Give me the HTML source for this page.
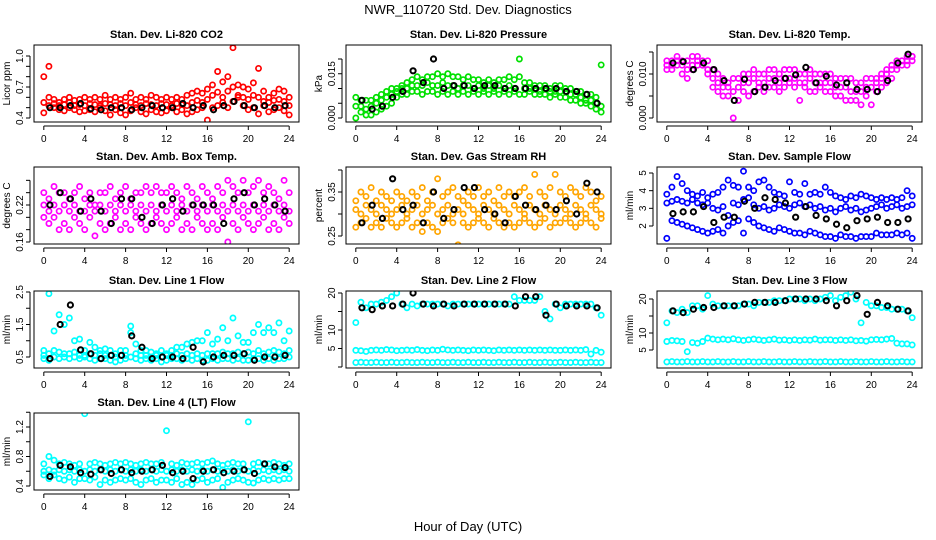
<!DOCTYPE html>
<html><head><meta charset="utf-8"><style>
html,body{margin:0;padding:0;background:#fff;}
svg{display:block;font-family:"Liberation Sans",Arial,sans-serif;}
</style></head><body>
<svg id="chart" width="936" height="540" viewBox="0 0 936 540">
<text x="468" y="14" text-anchor="middle" font-size="13">NWR_110720  Std. Dev. Diagnostics</text>
<text x="468" y="531" text-anchor="middle" font-size="13">Hour of Day (UTC)</text>
</svg>
<script>
const xTicks = [0,4,8,12,16,20,24];

const co2A = [0.80,0.60,0.58,0.55,0.58,0.60,0.57,0.58, 0.60,0.58,0.60,0.58,0.62,0.58,0.60,0.58, 0.60,0.64,0.58,0.60,0.58,0.62,0.60,0.58, 0.60,0.58,0.60,0.58,0.62,0.64,0.66,0.64, 0.68,0.72,0.85,0.75,0.80,1.08,0.72,0.70, 0.68,0.74,0.88,0.66,0.60,0.64,0.68,0.66, 0.60];
const co2B = [0.45,0.90,0.50,0.48,0.47,0.50,0.48,0.46, 0.47,0.48,0.46,0.50,0.47,0.43,0.48,0.45, 0.43,0.47,0.50,0.46,0.44,0.48,0.46,0.45, 0.47,0.50,0.46,0.48,0.44,0.46,0.48,0.50, 0.38,0.50,0.52,0.55,0.50,0.56,0.60,0.52, 0.48,0.50,0.44,0.52,0.46,0.48,0.50,0.47, 0.43];
const co2C = [0.55,0.52,0.54,0.52,0.53,0.55,0.52,0.53, 0.52,0.54,0.53,0.52,0.54,0.53,0.52,0.54, 0.52,0.55,0.53,0.52,0.54,0.53,0.52,0.54, 0.53,0.52,0.54,0.53,0.52,0.55,0.57,0.55, 0.58,0.62,0.65,0.60,0.66,0.70,0.62,0.60, 0.58,0.62,0.60,0.56,0.55,0.57,0.58,0.56, 0.52];
const co2K = [0.50,0.50,0.52,0.54,0.49,0.48,0.50,0.50, 0.48,0.50,0.52,0.50, 0.50,0.54,0.50,0.52, 0.48,0.52,0.56,0.52,0.50,0.52,0.50,0.52];

const presA = [0.007,0.006,0.006,0.006,0.007,0.008,0.009,0.010, 0.010,0.011,0.012,0.013,0.014,0.013,0.014,0.014, 0.015,0.014,0.015,0.014,0.014,0.013,0.014,0.013, 0.013,0.012,0.013,0.012,0.013,0.013,0.014,0.013, 0.014,0.012,0.012,0.011,0.011,0.011,0.010,0.011, 0.011,0.010,0.010,0.009,0.009,0.008,0.008,0.007, 0.018];
const presB = [0.000,0.002,0.001,0.001,0.002,0.003,0.004,0.005, 0.007,0.008,0.008,0.009,0.009,0.008,0.009,0.009, 0.008,0.009,0.008,0.009,0.008,0.009,0.008,0.009, 0.008,0.009,0.008,0.009,0.008,0.009,0.008,0.009, 0.008,0.008,0.009,0.008,0.008,0.008,0.007,0.008, 0.007,0.007,0.006,0.006,0.005,0.005,0.004,0.003, 0.002];
const presC = [0.004,0.004,0.003,0.004,0.005,0.006,0.007,0.008, 0.009,0.010,0.010,0.011,0.011,0.011,0.012,0.011, 0.011,0.012,0.011,0.011,0.010,0.011,0.011,0.010, 0.011,0.010,0.011,0.010,0.011,0.010,0.011,0.010, 0.020,0.010,0.010,0.010,0.009,0.010,0.009,0.009, 0.009,0.009,0.008,0.008,0.007,0.006,0.006,0.005, 0.004];
const presK = [0.006,0.003,0.004,0.007,0.009,0.016,0.012,0.020, 0.010,0.011,0.011,0.010, 0.011,0.011,0.010,0.010, 0.010,0.010,0.010,0.010,0.009,0.009,0.008,0.005];

const tempA = [0.013,0.013,0.014,0.013,0.013,0.014,0.014,0.013, 0.013,0.011,0.010,0.009,0.008,0.009,0.009,0.010, 0.010,0.011,0.010,0.010,0.011,0.011,0.010,0.011, 0.011,0.011,0.010,0.010,0.011,0.010,0.010,0.010, 0.010,0.009,0.009,0.009,0.009,0.008,0.008,0.009, 0.009,0.009,0.010,0.011,0.012,0.013,0.013,0.014, 0.014];
const tempB = [0.011,0.011,0.012,0.010,0.009,0.011,0.012,0.012, 0.010,0.007,0.006,0.005,0.005,0.000,0.004,0.006, 0.005,0.006,0.007,0.006,0.007,0.007,0.006,0.007, 0.008,0.007,0.004,0.007,0.006,0.006,0.007,0.006, 0.006,0.005,0.005,0.004,0.004,0.004,0.003,0.005, 0.003,0.006,0.007,0.008,0.009,0.011,0.012,0.012, 0.013];
const tempC = [0.012,0.012,0.013,0.012,0.011,0.012,0.013,0.012, 0.011,0.009,0.008,0.007,0.007,0.006,0.007,0.008, 0.008,0.009,0.008,0.008,0.009,0.009,0.008,0.009, 0.009,0.009,0.008,0.008,0.009,0.008,0.008,0.008, 0.008,0.007,0.007,0.007,0.006,0.006,0.006,0.007, 0.007,0.008,0.009,0.010,0.011,0.012,0.013,0.013, 0.014];
const tempK = [0.0125,0.0128,0.011,0.0125,0.011,0.0085,0.004,0.0088, 0.006,0.007,0.0085,0.009, 0.0098,0.0115,0.008,0.0095, 0.0075,0.008,0.0065,0.0065,0.006,0.0085,0.0125,0.0145];

const ambA = [0.24,0.23,0.25,0.24,0.24,0.23,0.24,0.25, 0.23,0.24,0.22,0.24,0.24,0.25,0.23,0.24, 0.25,0.23,0.24,0.24,0.25,0.24,0.25,0.24, 0.24,0.25,0.24,0.23,0.25,0.24,0.23,0.25, 0.24,0.23,0.25,0.24,0.26,0.25,0.24,0.26, 0.24,0.25,0.26,0.24,0.25,0.24,0.23,0.26, 0.24];
const ambB = [0.20,0.19,0.20,0.18,0.19,0.18,0.20,0.19, 0.18,0.20,0.17,0.19,0.18,0.19,0.20,0.18, 0.19,0.18,0.20,0.19,0.18,0.19,0.20,0.19, 0.18,0.19,0.20,0.18,0.19,0.18,0.20,0.19, 0.18,0.19,0.18,0.20,0.16,0.19,0.18,0.20, 0.19,0.18,0.19,0.20,0.18,0.19,0.18,0.20, 0.19];
const ambC = [0.22,0.21,0.22,0.21,0.22,0.21,0.22,0.21, 0.21,0.22,0.21,0.22,0.21,0.22,0.21,0.22, 0.21,0.22,0.21,0.22,0.21,0.22,0.21,0.22, 0.21,0.22,0.21,0.22,0.21,0.22,0.21,0.22, 0.21,0.22,0.21,0.22,0.21,0.22,0.21,0.22, 0.21,0.22,0.21,0.22,0.21,0.22,0.21,0.22, 0.21];
const ambK = [0.22,0.24,0.23,0.21,0.23,0.21,0.19,0.23, 0.23,0.20,0.19,0.22, 0.23,0.21,0.22,0.22, 0.22,0.19,0.23,0.24,0.22,0.23,0.22,0.21];

const rhA = [0.33,0.35,0.34,0.36,0.33,0.35,0.34,0.33, 0.35,0.34,0.33,0.35,0.34,0.36,0.33,0.35, 0.38,0.34,0.35,0.36,0.34,0.33,0.35,0.34, 0.36,0.34,0.35,0.33,0.36,0.34,0.35,0.34, 0.35,0.36,0.34,0.39,0.35,0.34,0.36,0.39, 0.35,0.34,0.36,0.35,0.34,0.36,0.35,0.33, 0.34];
const rhB = [0.27,0.28,0.29,0.27,0.28,0.27,0.29,0.28, 0.27,0.28,0.29,0.27,0.28,0.26,0.28,0.27, 0.26,0.28,0.29,0.28,0.23,0.28,0.27,0.28, 0.29,0.28,0.27,0.29,0.28,0.27,0.28,0.27, 0.28,0.29,0.28,0.27,0.28,0.29,0.27,0.28, 0.28,0.29,0.28,0.27,0.28,0.29,0.28,0.27, 0.29];
const rhC = [0.31,0.30,0.32,0.31,0.30,0.32,0.31,0.30, 0.31,0.32,0.30,0.31,0.32,0.30,0.31,0.32, 0.30,0.31,0.32,0.30,0.31,0.30,0.32,0.31, 0.30,0.32,0.31,0.30,0.32,0.31,0.30,0.32, 0.31,0.30,0.32,0.31,0.30,0.32,0.31,0.30, 0.32,0.31,0.30,0.32,0.31,0.30,0.32,0.31, 0.30];
const rhK = [0.28,0.32,0.29,0.38,0.31,0.32,0.28,0.35, 0.29,0.31,0.36,0.36, 0.31,0.30,0.28,0.34, 0.32,0.31,0.32,0.31,0.33,0.30,0.37,0.35];

const sfA = [3.8,4.2,4.8,4.4,4.0,3.8,3.7,3.9, 3.6,3.8,3.9,4.2,4.6,4.3,4.2,5.1, 4.2,4.0,4.5,4.6,4.2,3.9,3.8,3.7, 4.5,3.9,3.8,4.4,3.8,3.9,3.8,4.2, 3.9,3.7,3.6,3.5,3.7,3.6,3.8,3.7, 3.6,3.5,3.6,3.5,3.6,3.5,3.6,4.0, 3.7];
const sfB = [3.3,3.4,3.5,3.4,3.3,3.5,3.3,3.2, 3.3,3.0,2.9,3.1,2.6,3.3,3.2,3.5, 3.6,3.2,3.0,3.1,2.9,3.0,3.2,3.1, 3.0,3.2,3.3,3.1,3.2,3.0,3.1,2.9, 3.0,2.8,3.0,3.1,2.9,3.0,2.8,2.9, 3.0,3.1,3.2,3.0,3.1,3.2,3.0,3.1, 3.2];
const sfC = [1.3,2.3,2.2,2.1,2.0,1.9,1.8,1.7, 1.6,1.7,1.8,1.6,2.0,2.2,2.3,1.6, 2.4,2.2,2.0,1.9,1.8,1.7,1.9,1.8, 1.7,1.6,1.6,1.5,1.7,1.6,1.5,1.4, 1.4,1.3,1.5,1.4,1.4,1.3,1.4,1.4, 1.4,1.6,1.5,1.5,1.5,1.6,1.5,1.6, 1.3];
const sfK = [2.7,2.8,2.8,3.1,2.2,2.5,2.5,3.4, 3.0,3.6,3.5,3.3, 2.5,3.1,2.6,2.4, 2.1,1.9,2.3,2.4, 2.5,2.2,2.2,2.4];

const l1A = [0.70,2.45,1.30,1.80,1.50,1.70,1.00,1.05, 0.70,0.95,0.80,0.70,0.75,0.70,0.60,0.70, 0.70,1.45,0.90,0.70,0.70,0.65,0.60,0.70, 0.60,0.70,0.80,0.80,0.90,0.95,1.00,1.00, 1.25,0.90,1.05,1.40,1.00,1.70,1.15,0.95, 0.95,1.25,1.50,1.25,1.40,1.25,1.55,1.00, 1.30];
const l1B = [0.45,0.40,0.50,0.45,0.50,0.45,0.50,0.45, 0.50,0.45,0.40,0.45,0.45,0.40,0.35,0.40, 0.45,0.50,0.45,0.40,0.45,0.40,0.45,0.35, 0.40,0.45,0.45,0.40,0.45,0.40,0.45,0.40, 0.40,0.45,0.40,0.45,0.45,0.40,0.45,0.40, 0.40,0.45,0.45,0.40,0.45,0.40,0.45,0.45, 0.50];
const l1C = [0.55,0.60,0.70,0.65,0.60,0.60,0.65,0.55, 0.55,0.60,0.55,0.60,0.55,0.55,0.50,0.55, 0.55,1.25,0.60,0.55,0.55,0.50,0.55,0.50, 0.55,0.55,0.60,0.55,0.60,0.55,0.60,0.55, 0.60,0.60,0.60,0.65,0.60,0.60,0.65,0.60, 0.65,0.60,0.70,0.60,0.65,0.70,0.65,0.60, 0.70];
const l1K = [0.45,1.50,2.10,0.72,0.60,0.45,0.55,0.55, 1.15,0.80,0.45,0.50, 0.50,0.45,0.80,0.35, 0.50,0.55,0.55,0.60, 0.40,0.50,0.50,0.55];

const l2A = [12,17.5,16,17,17,17.5,18,19, 20,17,16,17,16.5,17,17,17, 17,17,16.5,17,17,17,17,17, 17,17,17,17,17,17,17,19, 18,18,18,18,19,15,13,17, 16,17,17,17,17,17,17,16, 14];
const l2B = [4.5,4.4,4.2,4.5,4.6,4.5,4.7,4.6, 4.4,4.5,4.6,4.5,4.7,4.5,4.4,4.6, 4.5,4.8,4.6,4.5,4.6,4.5,4.4,4.6, 4.5,4.6,4.5,4.4,4.6,4.5,4.6,4.5, 4.6,4.5,4.6,4.5,4.6,4.5,4.6,4.5, 4.5,4.6,4.5,4.6,4.5,4.7,3.5,4.5, 4.0];
const l2C = [1.2,1.3,1.2,1.2,1.3,1.2,1.2,1.3, 1.2,1.2,1.3,1.2,1.2,1.3,1.2,1.2, 1.3,1.2,1.2,1.3,1.2,1.2,1.3,1.2, 1.2,1.3,1.2,1.2,1.3,1.2,1.2,1.3, 1.2,1.2,1.3,1.2,1.2,1.3,1.2,1.2, 1.3,1.2,1.2,1.3,1.2,1.2,1.3,1.2, 1.2];
const l2K = [16,15.5,16.5,16.5,17,20,17,16.5, 17,16.5,17,17, 17,17,17,16.5, 19,19,14,17,16.5,16.5,16.5,16];

const l3A = [13,16.5,16,17,16,18,18,17, 21,18.5,18,18,18,18,18,18.5, 18.5,18,19,19,19,19.5,19.5,19.5, 20,20,20,19.5,20,19.5,20,20.5, 21,19.5,20.5,21,22,20,13,19, 18,18,17.5,17.5,17,17,17,16.5, 14.5];
const l3B = [7.5,7.8,7.7,7.5,4.5,7.2,7.0,7.5, 8.5,8.2,8.0,8.2,8.0,8.3,8.0,7.8, 8.0,8.2,8.0,7.8,8.0,8.2,7.9,8.0, 7.8,8.0,7.8,8.0,7.9,8.2,7.9,8.0, 8.0,7.8,8.0,7.8,8.0,7.7,7.8,7.6, 8.0,8.1,8.0,8.2,8.4,7.0,6.8,6.8, 6.5];
const l3C = [1.5,1.6,1.5,1.5,1.6,1.5,1.5,1.6, 1.5,1.5,1.6,1.5,1.5,1.6,1.5,1.5, 1.6,1.5,1.5,1.6,1.5,1.5,1.6,1.5, 1.5,1.6,1.5,1.5,1.6,1.5,1.5,1.6, 1.5,1.5,1.6,1.5,1.5,1.6,1.5,1.5, 1.6,1.5,1.5,1.6,1.5,1.5,1.6,1.5, 1.5];
const l3K = [16.5,16,17,17.5,17.5,18,18,18.5, 19,19,19,19.5, 20,20,20,19.5, 18,19.5,21,15.5,19,18,17,16.5];

const l4A = [0.70,0.80,0.75,0.70,0.72,0.70,0.68,0.70, 1.38,0.70,0.72,0.70,0.68,0.70,0.72,0.70, 0.72,0.70,0.68,0.70,0.72,0.70,0.70,0.72, 1.15,0.70,0.68,0.72,0.70,0.70,0.72,0.70, 0.72,0.74,0.70,0.68,0.70,0.72,0.70,0.70, 1.27,0.70,0.72,0.70,0.70,0.72,0.70,0.68, 0.70];
const l4B = [0.55,0.50,0.55,0.50,0.48,0.52,0.45,0.50, 0.50,0.48,0.52,0.42,0.48,0.45,0.48,0.50, 0.48,0.50,0.45,0.42,0.48,0.50,0.45,0.48, 0.48,0.45,0.50,0.42,0.45,0.42,0.48,0.50, 0.45,0.48,0.50,0.38,0.45,0.48,0.50,0.48, 0.45,0.44,0.48,0.50,0.48,0.50,0.48,0.50, 0.50];
const l4C = [0.60,0.62,0.60,0.62,0.60,0.62,0.60,0.62, 0.60,0.62,0.60,0.62,0.60,0.62,0.60,0.62, 0.60,0.62,0.60,0.62,0.60,0.62,0.60,0.62, 0.60,0.62,0.60,0.62,0.60,0.62,0.60,0.62, 0.60,0.62,0.60,0.62,0.60,0.62,0.60,0.62, 0.60,0.62,0.60,0.62,0.60,0.62,0.60,0.62, 0.60];
const l4K = [0.53,0.68,0.66,0.58,0.56,0.62,0.57,0.62, 0.58,0.60,0.62,0.68, 0.58,0.60,0.50,0.60, 0.62,0.58,0.60,0.62, 0.57,0.70,0.66,0.65];

const SVGNS = "http://www.w3.org/2000/svg";
const svg = document.getElementById('chart');
const colX = [34, 346, 657], rowY = [45, 167, 291, 413], PW = 265, PH = 77;
function mk(tag, attrs, parent){ const e=document.createElementNS(SVGNS,tag); for(const k in attrs) e.setAttribute(k,attrs[k]); (parent||svg).appendChild(e); return e; }

const panels = [
 {c:0,r:0,title:"Stan. Dev. Li-820 CO2",ylab:"Licor ppm",col:"#ff0000",ser:[co2A,co2B,co2C],blk:co2K,ref:[0.4,118,1.0,56],ticks:[0.4,0.5,0.6,0.7,0.8,0.9,1.0],labs:[0.4,0.7,1.0],fmt:1},
 {c:1,r:0,title:"Stan. Dev. Li-820 Pressure",ylab:"kPa",col:"#00e000",ser:[presA,presB,presC],blk:presK,ref:[0,118,0.02,59],ticks:[0,0.005,0.01,0.015,0.02],labs:[0,0.015],fmt:3},
 {c:2,r:0,title:"Stan. Dev. Li-820 Temp.",ylab:"degrees C",col:"#ff00ff",ser:[tempA,tempB,tempC],blk:tempK,ref:[0,118,0.01,74],ticks:[0,0.005,0.01,0.015],labs:[0,0.01],fmt:3},
 {c:0,r:1,title:"Stan. Dev. Amb. Box Temp.",ylab:"degrees C",col:"#ff00ff",ser:[ambA,ambB,ambC],blk:ambK,ref:[0.16,242,0.22,205],ticks:[0.16,0.18,0.2,0.22,0.24,0.26],labs:[0.16,0.22],fmt:2},
 {c:1,r:1,title:"Stan. Dev. Gas Stream RH",ylab:"percent",col:"#ffa500",ser:[rhA,rhB,rhC],blk:rhK,ref:[0.25,236,0.35,192],ticks:[0.25,0.3,0.35,0.4],labs:[0.25,0.35],fmt:2},
 {c:2,r:1,title:"Stan. Dev. Sample Flow",ylab:"ml/min",col:"#0000ff",ser:[sfA,sfB,sfC],blk:sfK,ref:[2,226,5,173],ticks:[2,3,4,5],labs:[2,3,4,5],fmt:0},
 {c:0,r:2,title:"Stan. Dev. Line 1 Flow",ylab:"ml/min",col:"#00ffff",ser:[l1A,l1B,l1C],blk:l1K,ref:[0.5,357,2.5,292],ticks:[0.5,1,1.5,2,2.5],labs:[0.5,1.5,2.5],fmt:1},
 {c:1,r:2,title:"Stan. Dev. Line 2 Flow",ylab:"ml/min",col:"#00ffff",ser:[l2A,l2B,l2C],blk:l2K,ref:[10,330,20,293],ticks:[0,5,10,15,20],labs:[5,10,20],fmt:0},
 {c:2,r:2,title:"Stan. Dev. Line 3 Flow",ylab:"ml/min",col:"#00ffff",ser:[l3A,l3B,l3C],blk:l3K,ref:[10,333,20,299],ticks:[5,10,15,20],labs:[5,10,20],fmt:0},
 {c:0,r:3,title:"Stan. Dev. Line 4 (LT) Flow",ylab:"ml/min",col:"#00ffff",ser:[l4A,l4B,l4C],blk:l4K,ref:[0.4,486,1.2,427],ticks:[0.4,0.6,0.8,1.0,1.2,1.4],labs:[0.4,0.8,1.2],fmt:1}
];

panels.forEach((p,pi)=>{
  const x0=colX[p.c], y0=rowY[p.r];
  const g = mk('g',{});
  
  
  const xs = h => x0 + (h + 0.96) * (PW / 25.92);
  const [v0,py0,v1,py1] = p.ref;
  const ys = v => py0 + (v - v0) * (py1 - py0) / (v1 - v0);
  const clip = 'clip'+pi;
  const cp = mk('clipPath',{id:clip},g); mk('rect',{x:x0,y:y0,width:PW,height:PH},cp);
  const t = mk('text',{x:x0+PW/2,y:y0-7,'text-anchor':'middle','font-size':'11','font-weight':'bold'},g);
  t.textContent = p.title;
  
  
  const yl = mk('text',{x:0,y:0,'text-anchor':'middle','font-size':'10',transform:`translate(${x0-24},${y0+PH/2}) rotate(-90)`},g);
  yl.textContent = p.ylab;
  
  
  const pg = mk('g',{'clip-path':`url(#${clip})`},g);
  p.ser.forEach(arr=>{
    arr.forEach((v,i)=>{
      const c = mk('circle',{cx:xs(i*0.5),cy:ys(v),r:2.6,fill:'none',stroke:p.col,'stroke-width':1.7},pg);
      
      
    });
  });
  p.blk.forEach((v,i)=>{
    const c = mk('circle',{cx:xs(i+0.6),cy:ys(v),r:2.6,fill:'none',stroke:'#000','stroke-width':2},pg);
    
    
  });
  const b = mk('rect',{x:x0,y:y0,width:PW,height:PH,fill:'none',stroke:'#000','stroke-width':1},g);
  
  
  mk('line',{x1:xs(xTicks[0]),x2:xs(xTicks[xTicks.length-1]),y1:y0+PH+4,y2:y0+PH+4,stroke:'#000'},g);
  xTicks.forEach(h=>{
    mk('line',{x1:xs(h),x2:xs(h),y1:y0+PH+4,y2:y0+PH+8,stroke:'#000'},g);
    const tl = mk('text',{x:xs(h),y:y0+PH+20,'text-anchor':'middle','font-size':'10'},g);
    tl.textContent = h;
    
    
  });
  const tk = p.ticks;
  mk('line',{x1:x0-4,x2:x0-4,y1:ys(tk[0]),y2:ys(tk[tk.length-1]),stroke:'#000'},g);
  tk.forEach(v=>{ mk('line',{x1:x0-8,x2:x0-4,y1:ys(v),y2:ys(v),stroke:'#000'},g); });
  p.labs.forEach(v=>{
    const tl = mk('text',{x:0,y:0,'text-anchor':'middle','font-size':'10',transform:`translate(${x0-11},${ys(v)}) rotate(-90)`},g);
    tl.textContent = v.toFixed(p.fmt);
    
    
  });
});
</script>
</body></html>
